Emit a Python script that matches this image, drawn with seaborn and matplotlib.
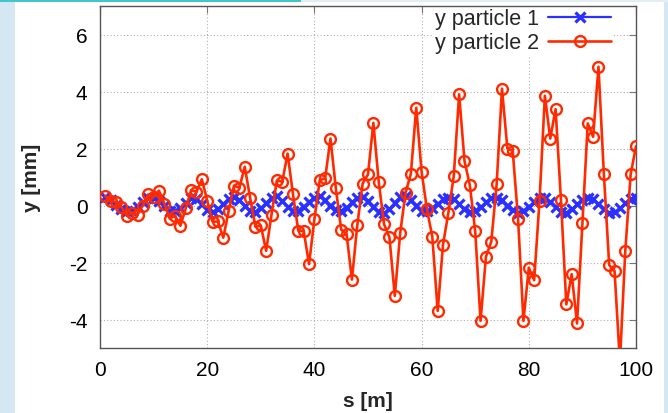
import numpy as np
import pandas as pd
import matplotlib
matplotlib.use("Agg")
import matplotlib.pyplot as plt
from matplotlib.patches import Rectangle
import seaborn as sns

# ---- data ----
s_values = list(range(1, 101))

y_particle_1 = [
    0.30, 0.18, 0.02, -0.12, -0.20, -0.18, -0.06, 0.12, 0.26, 0.28,
    0.16, -0.02, -0.18, -0.20, -0.08, 0.10, 0.25, 0.22, 0.04, -0.15,
    -0.22, -0.12, 0.06, 0.24, 0.30, 0.18, -0.02, -0.18, -0.22, -0.10,
    0.10, 0.28, 0.32, 0.16, -0.04, -0.18, -0.18, -0.04, 0.14, 0.28,
    0.32, 0.18, -0.02, -0.16, -0.18, -0.08, 0.12, 0.26, 0.30, 0.16,
    -0.06, -0.22, -0.26, -0.12, 0.10, 0.30, 0.34, 0.18, -0.02, -0.18,
    -0.20, -0.10, 0.06, 0.22, 0.28, 0.24, 0.06, -0.12, -0.22, -0.20,
    -0.06, 0.12, 0.26, 0.28, 0.18, 0.00, -0.16, -0.25, -0.20, -0.04,
    0.14, 0.26, 0.28, 0.14, -0.06, -0.22, -0.25, -0.14, 0.04, 0.20,
    0.28, 0.22, 0.06, -0.12, -0.26, -0.24, -0.10, 0.08, 0.22, 0.26,
]

y_particle_2 = [
    0.34, 0.15, 0.13, -0.05, -0.36, -0.25, -0.32, 0.00, 0.39, 0.30,
    0.52, 0.07, -0.46, -0.36, -0.71, -0.10, 0.54, 0.48, 0.92, 0.17,
    -0.57, -0.56, -1.13, -0.20, 0.70, 0.62, 1.36, 0.28, -0.75, -0.70,
    -1.59, -0.32, 0.88, 0.83, 1.82, 0.40, -0.89, -0.89, -2.06, -0.48,
    0.89, 0.95, 2.35, 0.60, -0.85, -1.00, -2.60, -0.69, 0.77, 1.09,
    2.90, 0.83, -0.66, -1.12, -3.17, -0.98, 0.44, 1.12, 3.43, 1.18,
    -0.13, -1.10, -3.70, -1.37, -0.25, 1.03, 3.90, 1.57, 0.71, -0.90,
    -4.05, -1.80, -1.27, 0.74, 4.10, 2.00, 1.92, -0.48, -4.05, -2.18,
    -2.62, 0.16, 3.85, 2.35, 3.38, 0.19, -3.47, -2.41, -4.14, -0.63,
    2.88, 2.41, 4.87, 1.12, -2.09, -2.30, -5.50, -1.60, 1.09, 2.08,
]

x_ticks = [0, 20, 40, 60, 80, 100]
y_ticks = [-4, -2, 0, 2, 4, 6]
series_labels = ["y particle 1", "y particle 2"]

df1 = pd.DataFrame({"s": s_values, "y": y_particle_1})
df2 = pd.DataFrame({"s": s_values, "y": y_particle_2})

# ---- style ----
sns.set_style("white")
plt.rcParams["font.family"] = ["Liberation Sans", "DejaVu Sans"]
plt.rcParams["axes.unicode_minus"] = False

fig = plt.figure(figsize=(6.68, 4.14), dpi=100)
fig.patch.set_facecolor("white")
# slide background strips
fig.patches.append(Rectangle((0, 0), 15 / 668, 1, transform=fig.transFigure,
                             facecolor="#d5e7f2", edgecolor="none", zorder=0))
fig.patches.append(Rectangle((664 / 668, 0), 4 / 668, 1, transform=fig.transFigure,
                             facecolor="#d5e7f2", edgecolor="none", zorder=0))
fig.patches.append(Rectangle((0, 1 - 3 / 414), 1, 3 / 414, transform=fig.transFigure,
                             facecolor="#e2eef5", edgecolor="none", zorder=0))
fig.patches.append(Rectangle((0, 1 - 3 / 414), 0.45, 3 / 414, transform=fig.transFigure,
                             facecolor="#43c6c9", edgecolor="none", zorder=1))

ax = fig.add_axes([100 / 668, 1 - 349 / 414, 536 / 668, 342 / 414])
ax.set_facecolor("white")

blue = "#2a30ff"
red = "#ff2a00"

sns.lineplot(data=df1, x="s", y="y", ax=ax, color=blue, lw=1.6, marker="x",
             markersize=7.2, markeredgewidth=2.3, markeredgecolor=blue,
             label=series_labels[0], zorder=3)
sns.lineplot(data=df2, x="s", y="y", ax=ax, color=red, lw=1.9, marker="o",
             markersize=7.8, markerfacecolor="none", markeredgewidth=1.7,
             markeredgecolor=red, label=series_labels[1], zorder=4)

ax.set_xlim(0, 100)
ax.set_ylim(-5, 7)
ax.set_xticks(x_ticks)
ax.set_yticks(y_ticks)
ax.grid(True, color="#b0b0b0", linestyle=(0, (1, 2)), linewidth=0.8)
ax.tick_params(direction="in", length=5, width=0.8, color="#777777",
               top=True, right=True, labelsize=15, colors="#777777",
               labelcolor="black")
ax.tick_params(axis="y", pad=9)
ax.tick_params(axis="x", pad=9)
for sp in ax.spines.values():
    sp.set_color("#555555")
    sp.set_linewidth(1.0)

ax.set_xlabel("s [m]", fontsize=15, fontweight="bold", labelpad=8)
ax.set_ylabel("y [mm]", fontsize=15, fontweight="bold", labelpad=20)

leg = ax.legend(loc="upper right", bbox_to_anchor=(1 - 24 / 536, 0.997),
                markerfirst=False, frameon=True,
                fontsize=15.5, handlelength=2.9, handletextpad=0.45,
                borderaxespad=0.0, borderpad=0.05, labelspacing=0.15)
leg.get_frame().set_facecolor("white")
leg.get_frame().set_edgecolor("white")
leg.get_frame().set_alpha(1.0)
leg.set_zorder(2)

fig.savefig("out.png", dpi=100)
